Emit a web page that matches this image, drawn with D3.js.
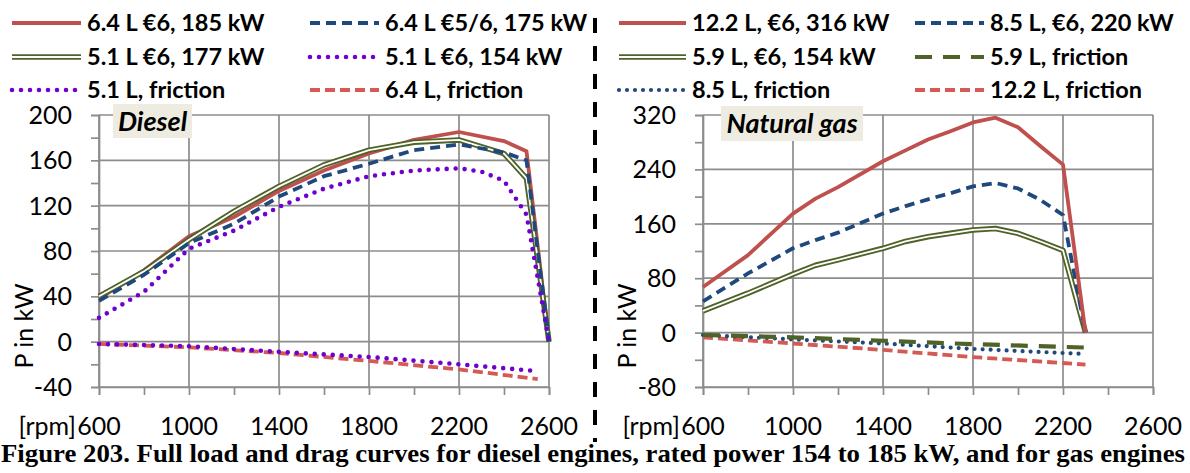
<!DOCTYPE html>
<html><head><meta charset="utf-8">
<script src="https://cdn.jsdelivr.net/npm/d3@7"></script>
<style>
body{margin:0;background:#fff;}
svg{display:block;}
</style></head>
<body><svg id="c" width="1190" height="473"></svg>
<script>
// ---------- DATA ----------
const dieselRpm = [600,800,1000,1200,1400,1600,1800,2000,2200,2400,2500,2600];
const diesel64e6_185 = [38,63,93,110,133,151,166,178,185,177,168,0];
const diesel64e56_175 = [36,59,87,104,128,146,157,169,174,167,160,0];
const diesel51e6_177 = [40,62,90,115,137,156,169,176,178,166,144,0];
const diesel51Rpm = [600,800,1000,1200,1400,1600,1800,2000,2200,2300,2400,2450,2500,2600];
const diesel51e6_154 = [21,44,82,98,119,135,146,151,153,150,142,127,112,0];
const dieselFricRpm = [600,1000,1400,1800,2200,2550];
const diesel51Fric = [-2,-4,-9,-13.5,-20,-26];
const diesel64Fric = [-2,-5,-10,-17,-24.5,-33];

const gasRpm = [600,800,1000,1100,1200,1400,1500,1600,1700,1800,1900,2000,2100,2200,2300];
const gas122_316 = [67,114,175,197,214,252,268,284,296,309,316,302,274,247,0];
const gas85_220 = [46,87,124,136,147,175,186,196,205,215,220,212,195,173,0];
const gas59_154 = [32,58,86,99,107,124,134,141,146,151,153,146,134,121,0];
const gasFricRpm = [600,1000,1400,1800,2300];
const gas59Fric = [-3.5,-7,-12,-17,-22];
const gas85Fric = [-3.5,-10,-16,-24,-31.5];
const gas122Fric = [-7,-16,-25.5,-36,-47];

const xTicks = [600,1000,1400,1800,2200,2600];
const dieselYTicks = [-40,0,40,80,120,160,200];
const gasYTicks = [-80,0,80,160,240,320];

const dieselLegend = ["6.4 L €6, 185 kW","6.4 L €5/6, 175 kW","5.1 L €6, 177 kW","5.1 L €6, 154 kW","5.1 L, friction","6.4 L, friction"];
const gasLegend = ["12.2 L, €6, 316 kW","8.5 L, €6, 220 kW","5.9 L, €6, 154 kW","5.9 L, friction","8.5 L, friction","12.2 L, friction"];
const caption = "Figure 203. Full load and drag curves for diesel engines, rated power 154 to 185 kW, and for gas engines";

// ---------- STYLES ----------
const RED = "#c0504d", BLUE = "#1f497d", GREEN = "#4f6228", PURPLE = "#7000d0", RED2 = "#d45a55";
const styles = {
  redSolid:   {type:"plain", color:RED, w:3.8},
  blueDash:   {type:"plain", color:BLUE, w:3.8, dash:"10,6"},
  greenDouble:{type:"double", color:GREEN, w:5.5},
  purpleDot:  {type:"plain", color:PURPLE, w:4.6, dash:"0,9", cap:"round"},
  redDash:    {type:"plain", color:RED2, w:3.8, dash:"10,5"},
  blueDot:    {type:"plain", color:BLUE, w:4.2, dash:"0,8", cap:"round"},
  greenLong:  {type:"plain", color:GREEN, w:4.2, dash:"17,11"}
};

const svg = d3.select("#c");
const FONT = "Lato, 'Open Sans', sans-serif";
const GRID = "#8c8c8c";

function drawPath(g, d, st){
  if(st.type === "double"){
    g.append("path").attr("d", d).attr("fill","none").attr("stroke", st.color).attr("stroke-width", st.w).attr("stroke-linejoin","round");
    g.append("path").attr("d", d).attr("fill","none").attr("stroke", "#fff").attr("stroke-width", 1.8).attr("stroke-linejoin","round");
  } else {
    const p = g.append("path").attr("d", d).attr("fill","none").attr("stroke", st.color).attr("stroke-width", st.w).attr("stroke-linejoin","round");
    if(st.dash) p.attr("stroke-dasharray", st.dash);
    if(st.cap) p.attr("stroke-linecap", st.cap);
  }
}

function panel(cfg){
  const x = d3.scaleLinear().domain([600,2600]).range(cfg.xr);
  const y = d3.scaleLinear().domain(cfg.yd).range([387,115]);
  const g = svg.append("g");
  // grid
  g.selectAll(".hg").data(cfg.yTicks).join("line")
    .attr("x1", x(600)).attr("x2", x(2600)).attr("y1", d=>y(d)).attr("y2", d=>y(d))
    .attr("stroke", GRID).attr("stroke-width", 1.7);
  g.selectAll(".vg").data(xTicks).join("line")
    .attr("x1", d=>x(d)).attr("x2", d=>x(d)).attr("y1", y(cfg.yd[1])).attr("y2", y(cfg.yd[0]))
    .attr("stroke", GRID).attr("stroke-width", 1.7);
  // axes with minor ticks
  const yAxis = d3.axisLeft(y).tickValues(d3.range(cfg.yd[0], cfg.yd[1]+1, cfg.minorY)).tickSize(8).tickFormat("");
  const ya = g.append("g").attr("transform", `translate(${x(600)},0)`).call(yAxis);
  const xAxis = d3.axisBottom(x).tickValues(d3.range(600, 2601, 200)).tickSize(8).tickFormat("");
  const xa = g.append("g").attr("transform", `translate(0,${y(cfg.yd[0])})`).call(xAxis);
  [ya, xa].forEach(a=>{ a.select(".domain").attr("stroke", GRID).attr("stroke-width",1.7);
    a.selectAll(".tick line").attr("stroke", GRID).attr("stroke-width",1.7); });
  // tick labels
  g.selectAll(".yl").data(cfg.yTicks).join("text")
    .attr("x", x(600) - 27).attr("y", d=>y(d)).attr("dy","0.36em")
    .attr("text-anchor","end").attr("font-family",FONT).attr("font-size",25).attr("fill","#000")
    .text(d=>d);
  g.selectAll(".xl").data(xTicks).join("text")
    .attr("x", d=>x(d)).attr("y", 435)
    .attr("text-anchor","middle").attr("font-family",FONT).attr("font-size",25).attr("fill","#000")
    .text(d=>d);
  g.append("text").attr("x", x(600) - 23).attr("y", 435).attr("text-anchor","end")
    .attr("font-family",FONT).attr("font-size",25).text("[rpm]");
  g.append("text").attr("transform", `translate(${cfg.ylabX},326) rotate(-90)`)
    .attr("text-anchor","middle").attr("font-family",FONT).attr("font-size",25).text("P in kW");
  // series
  const line = d3.line().x(d=>x(d[0])).y(d=>y(d[1]));
  cfg.series.forEach(s=>{
    drawPath(g, line(d3.zip(s.x, s.y)), styles[s.style]);
  });
  // title box
  g.append("rect").attr("x", cfg.box[0]).attr("y", cfg.box[1]).attr("width", cfg.box[2]).attr("height", cfg.box[3]).attr("fill","#eeece1");
  g.append("text").attr("font-family",FONT).attr("font-size",27).attr("font-weight","bold")
    .attr("font-style","italic").attr("text-anchor","middle")
    .attr("x", cfg.box[0] + cfg.box[2]/2).attr("y", cfg.box[1] + cfg.box[3]/2).attr("dy","0.36em").text(cfg.title);
  // legend
  cfg.legend.forEach((lab,i)=>{
    const col = i % 2, row = Math.floor(i/2);
    const lx = cfg.legX[col], ly = [23,57,90][row];
    drawPath(svg, d3.line()([[lx[0], ly],[lx[1], ly]]), styles[cfg.legStyles[i]]);
    svg.append("text").attr("x", lx[1] + 6).attr("y", ly).attr("dy","0.36em")
      .attr("font-family",FONT).attr("font-size",23.5).attr("font-weight","bold").text(lab);
  });
}

panel({
  xr:[99,549], yd:[-40,200], yTicks:dieselYTicks, minorY:20, ylabX:33,
  title:"Diesel", box:[113,104,79,34],
  series:[
    {x:dieselFricRpm, y:diesel64Fric, style:"redDash"},
    {x:dieselFricRpm, y:diesel51Fric, style:"purpleDot"},
    {x:dieselRpm, y:diesel64e6_185, style:"redSolid"},
    {x:dieselRpm, y:diesel51e6_177, style:"greenDouble"},
    {x:dieselRpm, y:diesel64e56_175, style:"blueDash"},
    {x:diesel51Rpm, y:diesel51e6_154, style:"purpleDot"}
  ],
  legend: dieselLegend, legStyles:["redSolid","blueDash","greenDouble","purpleDot","purpleDot","redDash"],
  legX:[[12,81],[310,379]]
});
panel({
  xr:[703,1153], yd:[-80,320], yTicks:gasYTicks, minorY:40, ylabX:636,
  title:"Natural gas", box:[721,106,142,35],
  series:[
    {x:gasFricRpm, y:gas122Fric, style:"redDash"},
    {x:gasFricRpm, y:gas85Fric, style:"blueDot"},
    {x:gasFricRpm, y:gas59Fric, style:"greenLong"},
    {x:gasRpm, y:gas59_154, style:"greenDouble"},
    {x:gasRpm, y:gas85_220, style:"blueDash"},
    {x:gasRpm, y:gas122_316, style:"redSolid"}
  ],
  legend: gasLegend, legStyles:["redSolid","blueDash","greenDouble","greenLong","blueDot","redDash"],
  legX:[[619,686],[915,984]]
});

// divider
svg.append("line").attr("x1",595).attr("x2",595).attr("y1",18).attr("y2",442)
  .attr("stroke","#000").attr("stroke-width",4).attr("stroke-dasharray","15,13");

// caption
svg.append("text").attr("x",1).attr("y",462)
  .attr("font-family","'Liberation Serif','Times New Roman',serif").attr("font-weight","bold").attr("font-size",26)
  .attr("textLength",1184).attr("lengthAdjust","spacingAndGlyphs").text(caption);
</script></body></html>
